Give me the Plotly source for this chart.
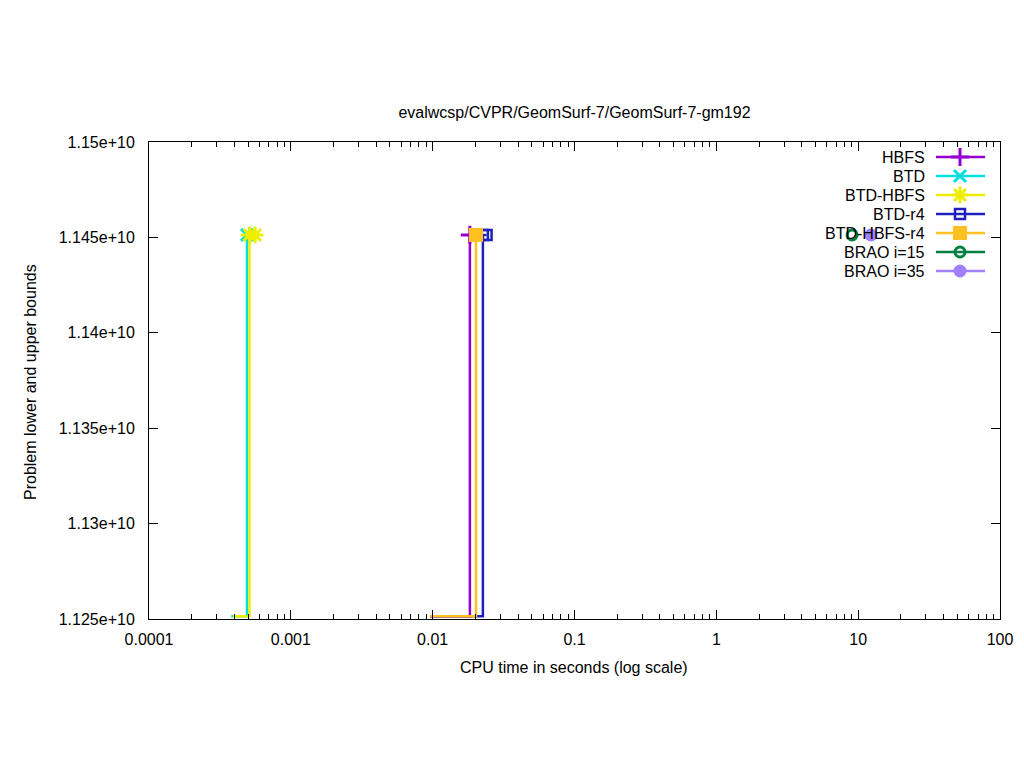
import plotly.graph_objects as go

# ---- data ----
series_names = ["HBFS", "BTD", "BTD-HBFS", "BTD-r4", "BTD-HBFS-r4", "BRAO i=15", "BRAO i=35"]
LB = 1.12515e10
UB = 1.14513e10
hbfs_t = [0.0096, 0.0183, 0.0183]
hbfs_v = [LB, LB, UB]
btd_t = [0.00038, 0.000491, 0.000491]
btd_v = [LB, LB, UB]
btdhbfs_t = [0.00039, 0.000511, 0.000511, 0.00056]
btdhbfs_v = [LB, LB, UB, UB]
btdr4_t = [0.0096, 0.0226, 0.0226, 0.0240]
btdr4_v = [LB, LB, UB, UB]
btdhbfsr4_t = [0.0096, 0.0202, 0.0202]
btdhbfsr4_v = [LB, LB, UB]
brao15_t = [9.06]
brao15_v = [UB]
brao35_t = [12.3]
brao35_v = [UB]

x_tickvals = [0.0001, 0.001, 0.01, 0.1, 1, 10, 100]
x_ticktext = ["0.0001", "0.001", "0.01", "0.1", "1", "10", "100"]
y_tickvals = [1.125e10, 1.13e10, 1.135e10, 1.14e10, 1.145e10, 1.15e10]
y_ticktext = ["1.125e+10", "1.13e+10", "1.135e+10", "1.14e+10", "1.145e+10", "1.15e+10"]

colors = ["#9400d3", "#00e0e0", "#eeee00", "#2020c0", "#ffc020", "#008040", "#a080ff"]
symbols = ["cross-thin-open", "x-thin-open", "asterisk-open", "square-open", "square", "circle-open", "circle"]
sizes = [13, 12, 14, 10, 14, 10, 13]
mlw = [3, 3, 3, 2.5, 0, 3, 0]

data = [(hbfs_t, hbfs_v), (btd_t, btd_v), (btdhbfs_t, btdhbfs_v), (btdr4_t, btdr4_v),
        (btdhbfsr4_t, btdhbfsr4_v), (brao15_t, brao15_v), (brao35_t, brao35_v)]

FONT = "Liberation Sans, Arial, sans-serif"
fig = go.Figure()

for i, (t, v) in enumerate(data):
    c = colors[i]
    if len(t) > 1:
        fig.add_trace(go.Scatter(x=t, y=v, mode="lines", line=dict(color=c, width=2.5),
                                 showlegend=False, hoverinfo="skip"))
    mt = [tt for tt, vv in zip(t, v) if vv > LB]
    mv = [vv for vv in v if vv > LB]
    fig.add_trace(go.Scatter(x=mt, y=mv, mode="markers",
                             marker=dict(symbol=symbols[i], size=sizes[i], color=c,
                                         line=dict(color=c, width=mlw[i])),
                             showlegend=False))

# ---- manual gnuplot-style legend on an overlay axis ----
L, R, T, B = 149, 1000, 142, 619
pw, ph = R - L, B - T
def px(x):
    return (x - L) / pw
def py(y):
    return (B - y) / ph

for i, name in enumerate(series_names):
    yy = py(157 + 19 * i)
    c = colors[i]
    fig.add_trace(go.Scatter(x=[px(936), px(985)], y=[yy, yy], mode="lines",
                             line=dict(color=c, width=2.5), xaxis="x2", yaxis="y2",
                             showlegend=False, hoverinfo="skip"))
    fig.add_trace(go.Scatter(x=[px(960)], y=[yy], mode="markers",
                             marker=dict(symbol=symbols[i], size=sizes[i], color=c,
                                         line=dict(color=c, width=mlw[i])),
                             xaxis="x2", yaxis="y2", showlegend=False, hoverinfo="skip"))
    fig.add_annotation(x=px(927), y=yy, xref="paper", yref="paper", text=name,
                       showarrow=False, xanchor="right", yanchor="middle",
                       font=dict(size=16, color="black", family=FONT))

fig.add_annotation(x=px(30), y=py(382), xref="paper", yref="paper",
                   text="Problem lower and upper bounds", textangle=-90, showarrow=False,
                   xanchor="center", yanchor="middle", font=dict(size=16, color="black", family=FONT))
fig.add_annotation(x=px(574), y=py(667), xref="paper", yref="paper",
                   text="CPU time in seconds (log scale)", showarrow=False,
                   xanchor="center", yanchor="middle", font=dict(size=16, color="black", family=FONT))

fig.update_layout(
    width=1024, height=768,
    margin=dict(l=L, r=1024 - R, t=T, b=768 - B, autoexpand=False),
    paper_bgcolor="white", plot_bgcolor="white",
    font=dict(family=FONT, size=16, color="black"),
    title=dict(text="evalwcsp/CVPR/GeomSurf-7/GeomSurf-7-gm192", x=574.5 / 1024, xanchor="center",
               y=1 - 112 / 768, yanchor="middle", yref="container",
               font=dict(size=16, color="black", family=FONT)),
    xaxis=dict(type="log", range=[-4, 2], tickvals=x_tickvals, ticktext=x_ticktext,
               ticks="inside", ticklen=9, tickwidth=1, tickcolor="black",
               showline=True, linecolor="black", linewidth=1, mirror="allticks",
               showgrid=False, zeroline=False, ticklabelstandoff=6, automargin=False,
               minor=dict(ticks="inside", ticklen=5, tickcolor="black", dtick="D1", showgrid=False)),
    yaxis=dict(range=[1.125e10, 1.15e10], tickvals=y_tickvals, ticktext=y_ticktext,
               ticks="inside", ticklen=9, tickwidth=1, tickcolor="black",
               showline=True, linecolor="black", linewidth=1, mirror="allticks",
               showgrid=False, zeroline=False, ticklabelstandoff=10, automargin=False),
    xaxis2=dict(overlaying="x", range=[0, 1], visible=False, fixedrange=True),
    yaxis2=dict(overlaying="y", range=[0, 1], visible=False, fixedrange=True),
)

fig.write_html("out.html", config={"displayModeBar": False},
               post_script="document.body.style.margin='0';document.body.style.padding='0';")
